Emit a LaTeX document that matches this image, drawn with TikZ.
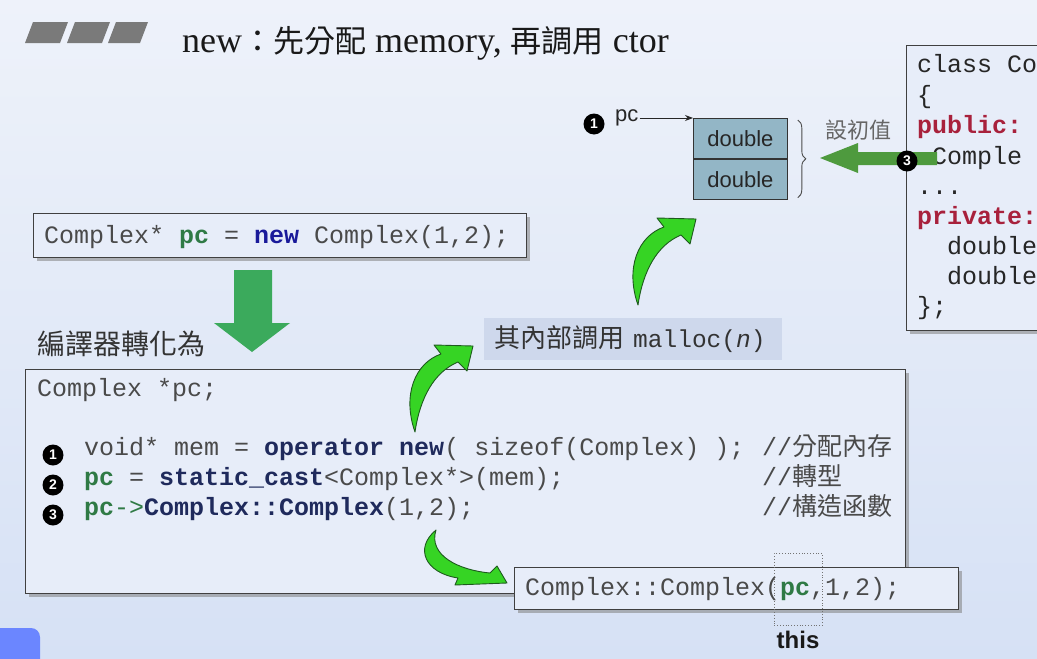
\documentclass[tikz,border=0pt]{standalone}
\usepackage{fontspec}
\setmainfont{Liberation Serif}
\setsansfont{Liberation Sans}
\setmonofont{Liberation Mono}
\newfontfamily\cjk{Noto Sans CJK TC}
\usetikzlibrary{arrows.meta,decorations.pathreplacing,shadows}

\definecolor{bgtop}{HTML}{EEF2FA}
\definecolor{bgbot}{HTML}{D6E1F5}
\definecolor{codegray}{HTML}{4A4A4A}
\definecolor{kwnavy}{HTML}{1F2A5C}
\definecolor{kwblue}{HTML}{1A1A9A}
\definecolor{pcgreen}{HTML}{2F7A45}
\definecolor{kwred}{HTML}{A8213C}
\definecolor{memfill}{HTML}{93B6C6}
\definecolor{downgreen}{HTML}{3BAA5C}
\definecolor{rightgreen}{HTML}{4E9A3E}
\definecolor{brightgreen}{HTML}{36D424}
\definecolor{edgegreen}{HTML}{1E5A1E}
\definecolor{boxfill}{HTML}{E7EDF9}
\definecolor{labelfill}{HTML}{CED8EC}
\definecolor{tabblue}{HTML}{6B86FF}
\definecolor{slantgray}{HTML}{7A7A7A}

\newcommand\kwn[1]{\textbf{\color{kwnavy}#1}}
\newcommand\pcv[1]{\textbf{\color{pcgreen}#1}}

\tikzset{
  codebox/.style={draw=black!75, line width=1.2pt, fill=boxfill,
    drop shadow={shadow xshift=3pt, shadow yshift=-3pt, opacity=0.55}},
  code/.style={anchor=base west, inner sep=0pt, text=codegray,
    font=\fontsize{25}{30}\selectfont\ttfamily},
  rcode/.style={code, text=black!85},
  num/.style={circle, fill=black, text=white, inner sep=0pt, minimum size=21pt,
    font=\fontsize{14}{14}\selectfont\sffamily\bfseries},
  memcell/.style={draw=black!80, line width=0.8pt, fill=memfill, minimum width=94pt,
    minimum height=40pt, inner sep=0pt, font=\fontsize{22}{22}\selectfont\sffamily, text=black!85},
  curvedarrow/.style={fill=brightgreen, draw=edgegreen, line width=0.9pt, line join=round},
}

\begin{document}
\begin{tikzpicture}[x=1pt, y=-1pt]
\useasboundingbox (0,0) rectangle (1037,659);
\shade[top color=bgtop, bottom color=bgbot] (0,0) rectangle (1037,659);

% title decoration
\fill[slantgray] (25,43) -- (60,43) -- (68,22) -- (33,22) -- cycle;
\fill[slantgray] (67,43) -- (102,43) -- (110,22) -- (75,22) -- cycle;
\fill[slantgray] (108,43) -- (140,43) -- (148,22) -- (116,22) -- cycle;
\node[anchor=base west, inner sep=0pt, text=black!90, font=\fontsize{36}{40}\selectfont] (title) at (182,52)
  {new{\cjk\fontsize{31}{36}\selectfont ：先分配} memory, {\cjk\fontsize{31}{36}\selectfont 再調用} ctor};

% top code box
\node[codebox, anchor=north west, minimum width=493pt, minimum height=44pt] (topbox) at (33,213) {};
\node[code] (topcode) at (44,243) {Complex* \pcv{pc} = \textbf{\color{kwblue}new} Complex(1,2);};

% down arrow
\fill[downgreen] (234,270) -- (272,270) -- (272,323) -- (290,323) -- (252,352) -- (214,323) -- (234,323) -- cycle;
\node[anchor=west, inner sep=0pt, text=black!80, font=\cjk\fontsize{28}{28}\selectfont] (conv) at (37,344) {編譯器轉化為};

% big code box
\node[codebox, anchor=north west, minimum width=880pt, minimum height=224pt] (bigbox) at (25,369) {};
\node[code] (l0) at (37,396) {Complex *pc;};
\node[code] (l1) at (84,455) {void* mem = \kwn{operator new}( sizeof(Complex) );};
\node[code] (l2) at (84,485) {\pcv{pc} = \kwn{static\_cast}<Complex*>(mem);};
\node[code] (l3) at (84,515) {\pcv{pc}{\color{pcgreen}->}\kwn{Complex::Complex}(1,2);};
\node[code] (c1) at (762,455) {//{\cjk 分配內存}};
\node[code] (c2) at (762,485) {//{\cjk 轉型}};
\node[code] (c3) at (762,515) {//{\cjk 構造函數}};
\node[num] (n1) at (53,455) {1};
\node[num] (n2) at (53,485) {2};
\node[num] (n3) at (53,515) {3};

% malloc label
\node[anchor=north west, fill=labelfill, minimum width=298pt, minimum height=42pt, inner sep=0pt] (malloc) at (484,318) {};
\node[anchor=west, inner sep=0pt, text=black!80] (malloctext) at (494,339)
  {{\cjk\fontsize{26}{26}\selectfont 其內部調用}\hspace{9pt}{\ttfamily\fontsize{24.5}{26}\selectfont malloc(\textit{n})}};

% bottom box
\node[codebox, anchor=north west, minimum width=444pt, minimum height=42pt] (botbox) at (514,567) {};
\node[code] (botcode) at (525,595) {Complex::Complex(\pcv{pc},1,2);};
\node[draw=black!55, dotted, line width=0.8pt, anchor=north west, minimum width=48pt, minimum height=72pt, inner sep=0pt] (thisbox) at (774,553) {};
\node[anchor=base, inner sep=0pt, font=\fontsize{24}{24}\selectfont\sffamily\bfseries, text=black!90] (this) at (798,648) {this};

% memory
\node[num] (m1) at (594,124) {1};
\node[anchor=west, inner sep=1pt, font=\fontsize{22}{22}\selectfont\sffamily, text=black!85] (pclbl) at (614,118) {pc};
\node[memcell, anchor=north west] (mem1) at (693,118) {double};
\node[memcell, anchor=north] (mem2) at (mem1.south) {double};
\draw[black!85, line width=0.9pt, -{Stealth[length=8pt, width=6pt]}] (pclbl.east) -- (mem1.north west);
\draw[decorate, decoration={brace, amplitude=8pt}, black!70, line width=0.9pt]
  ([xshift=10pt, yshift=-2pt]mem1.north east) -- ([xshift=10pt, yshift=2pt]mem2.south east);
\node[anchor=west, inner sep=0pt, text=black!60, font=\cjk\fontsize{22}{22}\selectfont] (init) at (825,130) {設初值};

% class box
\begin{scope}
\clip (0,0) rectangle (1037,659);
\node[codebox, anchor=north west, minimum width=150pt, minimum height=285pt] (classbox) at (906,45) {};
\node[rcode] at (917,72) {class Co};
\node[rcode] at (917,103) {\{};
\node[rcode] at (917,133) {\textbf{\color{kwred}public:}};
\node[rcode] at (932,164) {Comple};
\node[rcode] at (917,194) {...};
\node[rcode] at (917,224) {\textbf{\color{kwred}private:}};
\node[rcode] at (947,254) {double};
\node[rcode] at (947,284) {double};
\node[rcode] at (917,314) {\};};
\end{scope}

% green arrow into brace
\fill[rightgreen] (937,152) -- (858,152) -- (858,143) -- (820,158) -- (858,173) -- (858,165) -- (937,165) -- cycle;
\node[num] (r3) at (907,161) {3};

% curved arrows
\newcommand\curvedup{%
  (415,432) .. controls (402,395) and (415,363) .. (441,354) -- (434,345) -- (473,346)
  -- (467,371) -- (458,362) .. controls (434,372) and (420,398) .. (415,432) -- cycle}
\filldraw[curvedarrow] \curvedup;
\begin{scope}[shift={(223,-127)}]
\filldraw[curvedarrow] \curvedup;
\end{scope}
\filldraw[curvedarrow] (436,530) .. controls (414,548) and (425,573) .. (458,578) -- (455,585) -- (507,583)
  -- (497,566) -- (490,573) .. controls (458,570) and (428,555) .. (436,530) -- cycle;

% blue tab
\fill[tabblue, rounded corners=9pt] (-12,628) rectangle (40,690);
\end{tikzpicture}
\end{document}
